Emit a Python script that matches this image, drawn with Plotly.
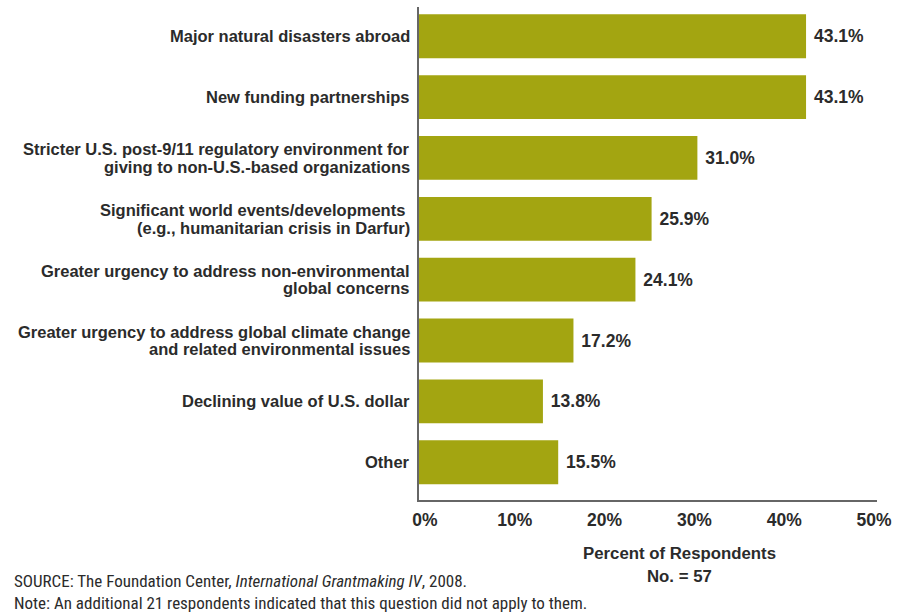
import plotly.graph_objects as go

categories = [
    "Major natural disasters abroad",
    "New funding partnerships",
    "Stricter U.S. post-9/11 regulatory environment for<br>giving to non-U.S.-based organizations",
    "Significant world events/developments <br>(e.g., humanitarian crisis in Darfur)",
    "Greater urgency to address non-environmental<br>global concerns",
    "Greater urgency to address global climate change<br>and related environmental issues",
    "Declining value of U.S. dollar",
    "Other",
]
values = [43.1, 43.1, 31.0, 25.9, 24.1, 17.2, 13.8, 15.5]
tick_vals = [0, 10, 20, 30, 40, 50]
tick_text = ["0%", "10%", "20%", "30%", "40%", "50%"]

W, H = 903, 613
ml, mr, mt, mb = 419, 26, 7, 113
pw, ph = W - ml - mr, H - mt - mb

def px(x):
    return (x - ml) / pw

def py(y):
    return (H - mb - y) / ph

font_main = "Liberation Sans, Arial, sans-serif"
font_narrow = "Liberation Sans Narrow, Roboto Condensed, Arial Narrow, sans-serif"
txt = "#2b2b2b"

fig = go.Figure(go.Bar(
    x=values, y=categories, orientation="h",
    marker=dict(color="#A3A511", line=dict(width=0)),
    text=[f"{v:.1f}%" for v in values],
    texttemplate=" %{text}",
    textposition="outside",
    textfont=dict(family=font_main, size=17.5, color=txt, weight="bold"),
    cliponaxis=False,
))

fig.update_layout(
    width=W, height=H,
    margin=dict(l=ml, r=mr, t=mt, b=mb, pad=0),
    plot_bgcolor="white", paper_bgcolor="white",
    bargap=0.28, showlegend=False,
    font=dict(family=font_main, color=txt),
)
fig.update_yaxes(
    range=[7.62, -0.48], showgrid=False, zeroline=False,
    showline=True, linecolor="#666666", linewidth=2,
    ticks="", showticklabels=False, automargin=False,
)
fig.update_xaxes(
    range=[0, 51.0], showgrid=False, zeroline=False,
    showline=True, linecolor="#666666", linewidth=2,
    tickvals=tick_vals, ticktext=tick_text, ticks="",
    ticklabelstandoff=3, ticklabelshift=6, automargin=False,
    tickfont=dict(family=font_main, size=17.5, color=txt, weight="bold"),
)

# category labels with tight line spacing, as in the reference
for cat in categories:
    lines = cat.split("<br>")
    n = len(lines)
    for i, ln in enumerate(lines):
        shift = (n - 1) / 2 * 17.5 - i * 17.5
        fig.add_annotation(xref="paper", yref="y", x=px(412), y=cat, yshift=shift,
                           xanchor="right", yanchor="middle", showarrow=False,
                           text=ln, font=dict(family=font_main, size=16.5, color=txt, weight="bold"))

ann = [
    dict(text="Percent of Respondents", x=px(679), y=py(553)),
    dict(text="No. = 57", x=px(679), y=py(576)),
]
for a in ann:
    fig.add_annotation(xref="paper", yref="paper", xanchor="center", yanchor="middle",
                       showarrow=False, font=dict(family=font_main, size=16.8, color=txt, weight="bold"), **a)

fig.add_annotation(xref="paper", yref="paper", x=px(12), y=py(581), xanchor="left", yanchor="middle",
                   showarrow=False, font=dict(family=font_narrow, size=17, color=txt),
                   text="SOURCE: The Foundation Center, <i>International Grantmaking IV</i>, 2008.")
fig.add_annotation(xref="paper", yref="paper", x=px(12), y=py(603), xanchor="left", yanchor="middle",
                   showarrow=False, font=dict(family=font_narrow, size=17, color=txt),
                   text="Note: An additional 21 respondents indicated that this question did not apply to them.")

fig.write_html("out.html", config={"displayModeBar": False},
               post_script="document.body.style.margin='0';document.body.style.overflow='hidden';")
